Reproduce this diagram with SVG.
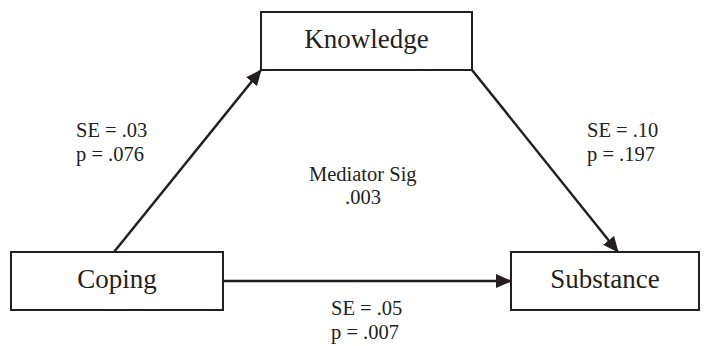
<svg xmlns="http://www.w3.org/2000/svg" width="709" height="346" viewBox="0 0 709 346">
<style>
.box{fill:#fff;stroke:#231f20;stroke-width:2}
.lbl{font-family:"Liberation Serif","DejaVu Serif",serif;font-size:27px;fill:#231f20}
.sm{font-family:"Liberation Serif","DejaVu Serif",serif;font-size:20.5px;fill:#231f20}
.ln{stroke:#231f20;stroke-width:2.5;fill:none}
</style>
<defs>
<marker id="a" viewBox="0 0 16 14" refX="15" refY="7" markerWidth="16" markerHeight="14" orient="auto" markerUnits="userSpaceOnUse">
<path d="M0,0 L16,7 L0,14 z" fill="#231f20"/>
</marker>
</defs>
<g id="connectors">
<line class="ln" x1="114" y1="252" x2="261" y2="70" marker-end="url(#a)"/>
<line class="ln" x1="472" y1="70" x2="618" y2="252" marker-end="url(#a)"/>
<line class="ln" x1="223" y1="281" x2="511" y2="281" marker-end="url(#a)"/>
</g>
<g id="knowledge">
<rect class="box" x="261" y="12" width="211" height="58"/>
<text class="lbl" x="366.5" y="48" text-anchor="middle">Knowledge</text>
</g>
<g id="coping">
<rect class="box" x="11" y="252" width="212" height="58"/>
<text class="lbl" x="117" y="288" text-anchor="middle">Coping</text>
</g>
<g id="substance">
<rect class="box" x="511" y="252" width="188" height="58"/>
<text class="lbl" x="605" y="288" text-anchor="middle">Substance</text>
</g>
<g id="labels">
<text class="sm" x="76" y="137">SE = .03</text>
<text class="sm" x="76" y="161">p = .076</text>
<text class="sm" x="587" y="137">SE = .10</text>
<text class="sm" x="587" y="161">p = .197</text>
<text class="sm" x="309" y="181">Mediator Sig</text>
<text class="sm" x="345" y="204">.003</text>
<text class="sm" x="331" y="315">SE = .05</text>
<text class="sm" x="331" y="339">p = .007</text>
</g>
</svg>
